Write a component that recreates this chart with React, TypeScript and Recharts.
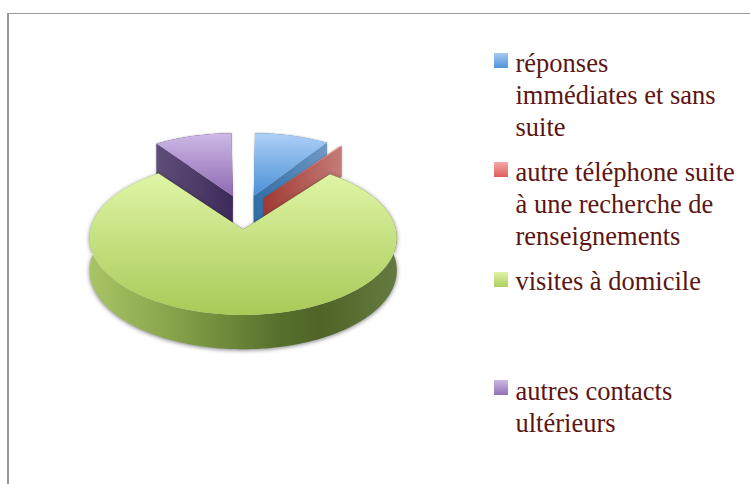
import React from "react";
import { PieChart, Pie } from "recharts";

const categories = [
  "réponses immédiates et sans suite",
  "autre téléphone suite à une recherche de renseignements",
  "visites à domicile",
  "autres contacts ultérieurs",
];
const shares = [9.233, 0.142, 80.966, 9.659];
const legendLines = [
  ["réponses", "immédiates et sans", "suite"],
  ["autre téléphone suite", "à une recherche de", "renseignements"],
  ["visites à domicile"],
  ["autres contacts", "ultérieurs"],
];
// painted back to front, so the front slice hides the walls behind it
const paintOrder = [3, 0, 1, 2];

const pieData = paintOrder.map((i) => ({ name: categories[i], value: shares[i] }));

const topStops: Record<string, string[]> = {
  [categories[0]]: ["#aed0f7", "#4a90d6"],
  [categories[1]]: ["#f0a0a0", "#d85a55"],
  [categories[2]]: ["#dff5a6", "#a9ca58"],
  [categories[3]]: ["#cdb9e6", "#8f69b3"],
};
const wallStops: Record<string, [string, number][]> = {
  [categories[0]]: [["#2f6ea6", 0], ["#7098c4", 1]],
  [categories[1]]: [["#a03a33", 0], ["#c47c78", 1]],
  [categories[2]]: [["#a8c466", 0], ["#8aa64c", 0.25], ["#56702c", 0.62], ["#4f6426", 0.75], ["#647a40", 1]],
  [categories[3]]: [["#5e4e78", 0], ["#3e2a5a", 1]],
};
const swatchCss = ["#a6caf5,#4f94d8", "#f5a8a6,#dc5f5a", "#def3a4,#afcf5f", "#ccb8e4,#9270b6"];

const EXPLODE = 0.237;
const K = 0.104;
const SQUASH = 72.5 / 149;
const DEPTH = 32;

function SliceShape(props: any) {
  const { cx, cy, outerRadius: R, startAngle, endAngle, name } = props;
  const a0 = 90 - Math.max(startAngle, endAngle);
  const a1 = 90 - Math.min(startAngle, endAngle);
  const mid = ((a0 + a1) / 2) * (Math.PI / 180);
  const ou = EXPLODE * Math.sin(mid);
  const ov = -EXPLODE * Math.cos(mid);
  const top = (u: number, v: number) => {
    const w = 1 - K * v;
    return [cx + (R * u) / w, cy + (R * SQUASH * v) / w];
  };
  const bottom = (u: number, v: number) => {
    const p = top(u, v);
    return [p[0], p[1] + DEPTH * Math.sqrt(1 / (1 - K * v))];
  };
  const uv = (deg: number) => {
    const t = (deg * Math.PI) / 180;
    return [ou + Math.sin(t), ov - Math.cos(t)];
  };
  const arc: number[][] = [];
  const steps = Math.max(2, Math.ceil(a1 - a0));
  for (let i = 0; i <= steps; i++) arc.push(uv(a0 + ((a1 - a0) * i) / steps));
  const str = (pts: number[][]) => pts.map((p) => `${p[0].toFixed(2)},${p[1].toFixed(2)}`).join(" ");

  const apex = [ou, ov];
  const topPts = [top(apex[0], apex[1]), ...arc.map((p) => top(p[0], p[1]))];
  const outer = [
    ...arc.map((p) => top(p[0], p[1])),
    ...arc.slice().reverse().map((p) => bottom(p[0], p[1])),
  ];
  const radial = (p: number[]) => [
    top(apex[0], apex[1]),
    top(p[0], p[1]),
    bottom(p[0], p[1]),
    bottom(apex[0], apex[1]),
  ];
  const first = arc[0];
  const last = arc[arc.length - 1];
  const id = name.replace(/[^a-z]/g, "").slice(0, 14);
  const isGreen = name === categories[2];
  const ts = topStops[name];
  const ws = wallStops[name];
  const ys = topPts.map((p) => p[1]);
  const xs = outer.map((p) => p[0]).concat(topPts.map((p) => p[0]));
  return (
    <g>
      <defs>
        <linearGradient id={`t${id}`} gradientUnits="userSpaceOnUse" x1="0" x2="0" y1={Math.min(...ys)} y2={Math.max(...ys)}>
          <stop offset="0" stopColor={ts[0]} />
          <stop offset="1" stopColor={ts[1]} />
        </linearGradient>
        <linearGradient id={`w${id}`} gradientUnits="userSpaceOnUse" y1="0" y2="0" x1={Math.min(...xs)} x2={Math.max(...xs)}>
          {ws.map((s, i) => (
            <stop key={i} offset={s[1]} stopColor={s[0]} />
          ))}
        </linearGradient>
      </defs>
      <g style={{ filter: isGreen ? "drop-shadow(0 1px 2px rgba(0,0,0,0.5))" : "drop-shadow(0 0 1px rgba(0,0,0,0.3))" }}>
        <polygon points={str(outer)} fill={`url(#w${id})`} />
        <polygon points={str(radial(first))} fill={`url(#w${id})`} />
        <polygon points={str(radial(last))} fill={`url(#w${id})`} />
      </g>
      <polygon points={str(topPts)} fill={`url(#t${id})`} />
    </g>
  );
}

const TEXT: React.CSSProperties = {
  position: "absolute",
  left: 515.5,
  fontFamily: '"Liberation Serif", serif',
  fontSize: 26.5,
  lineHeight: "32px",
  color: "#5c1512",
  whiteSpace: "nowrap",
};

const legendTops = [47, 156, 265, 375];
const swatchTops = [53, 162, 272, 380];

export default function App() {
  return (
    <div style={{ position: "absolute", left: 0, top: 0, width: 750, height: 484, overflow: "hidden", background: "#fff" }}>
      <div style={{ position: "absolute", left: 7, top: 13, width: 743, height: 471, boxSizing: "border-box", borderTop: "1px solid #999", borderLeft: "2px solid #999" }} />
      <div style={{ position: "absolute", left: 0, top: 0 }}>
        <PieChart width={486} height={484} margin={{ top: 0, right: 0, bottom: 0, left: 0 }}>
          <Pie
            data={pieData}
            dataKey="value"
            nameKey="name"
            cx={243.5}
            cy={212}
            outerRadius={149}
            innerRadius={0}
            startAngle={-235}
            endAngle={-595}
            paddingAngle={2}
            stroke="none"
            isAnimationActive={false}
            shape={SliceShape}
          />
        </PieChart>
      </div>
      {legendLines.map((lines, i) => (
        <React.Fragment key={i}>
          <div
            style={{
              position: "absolute",
              left: 494,
              top: swatchTops[i],
              width: 14,
              height: 15,
              background: `linear-gradient(180deg,${swatchCss[i]})`,
            }}
          />
          <div style={{ ...TEXT, top: legendTops[i] }}>
            {lines.map((l, j) => (
              <div key={j}>{l}</div>
            ))}
          </div>
        </React.Fragment>
      ))}
    </div>
  );
}
